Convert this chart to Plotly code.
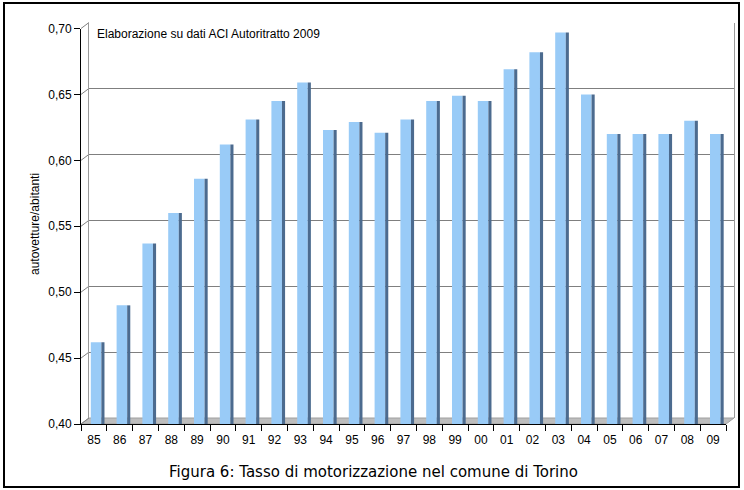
import plotly.graph_objects as go

# Data
anni = ["85", "86", "87", "88", "89", "90", "91", "92", "93", "94", "95", "96", "97",
        "98", "99", "00", "01", "02", "03", "04", "05", "06", "07", "08", "09"]
tasso = [0.462, 0.490, 0.537, 0.560, 0.586, 0.612, 0.631, 0.645, 0.659, 0.623, 0.629, 0.621,
         0.631, 0.645, 0.649, 0.645, 0.669, 0.682, 0.697, 0.650, 0.620, 0.620, 0.620, 0.630, 0.620]
y_ticks = [0.40, 0.45, 0.50, 0.55, 0.60, 0.65, 0.70]

W, H = 744, 490


def px(x):
    return x / W


def py(y):
    return 1 - y / H


fig = go.Figure()

# back wall (gridlines only), shifted up/right for the 3D look
fig.add_trace(go.Bar(x=anni, y=[None] * len(anni), xaxis="x", yaxis="y",
                     showlegend=False, hoverinfo="skip"))

# front face of the bars
fig.add_trace(go.Bar(
    x=anni, y=[v - 0.40 for v in tasso], base=0.40,
    xaxis="x2", yaxis="y2",
    width=0.41, offset=-0.12,
    marker=dict(color="#99cbf7", line=dict(width=0)),
    showlegend=False,
))

# dark side of the bars
fig.add_trace(go.Bar(
    x=anni, y=[v - 0.40 for v in tasso], base=0.40,
    xaxis="x2", yaxis="y2",
    width=0.12, offset=0.29,
    marker=dict(color="#4c6b8f", line=dict(width=0)),
    showlegend=False,
))

# floor + frame + wall connectors
shapes = [
    dict(type="path", xref="paper", yref="paper",
         path=f"M {px(81)},{py(424)} L {px(726)},{py(424)} L {px(734)},{py(418)} L {px(89)},{py(418)} Z",
         fillcolor="#bdbdbd", line=dict(color="#a0a0a0", width=1), layer="below"),
    dict(type="rect", xref="paper", yref="paper",
         x0=px(4), y0=py(487), x1=px(739), y1=py(3),
         line=dict(color="black", width=2)),
]
for v in y_ticks:
    yf = 424 - (v - 0.40) / 0.30 * 395.5
    shapes.append(dict(type="line", xref="paper", yref="paper",
                       x0=px(81), y0=py(yf), x1=px(89), y1=py(yf - 6),
                       line=dict(color="#808080", width=1), layer="below"))

fig.update_layout(
    width=W, height=H,
    margin=dict(l=0, r=0, t=0, b=0, autoexpand=False),
    paper_bgcolor="white",
    plot_bgcolor="rgba(0,0,0,0)",
    separators=",.",
    barmode="overlay",
    font=dict(family="Liberation Sans, Arial, sans-serif", size=12, color="black"),
    xaxis=dict(domain=[px(89), px(734)], anchor="y", showgrid=False, showticklabels=False,
               zeroline=False, ticks="", automargin=False),
    yaxis=dict(domain=[py(418), py(22.5)], anchor="x", range=[0.40, 0.70],
               tickvals=y_ticks, showgrid=True, gridcolor="#7f7f7f", gridwidth=1,
               showticklabels=False, zeroline=False, ticks="", automargin=False,
               showline=True, mirror=True, linecolor="#9a9a9a", linewidth=1),
    xaxis2=dict(domain=[px(81), px(726)], anchor="y2", showgrid=False,
                showline=True, linecolor="black", linewidth=1, automargin=False,
                ticks="outside", ticklen=6, tickcolor="black", tickson="boundaries",
                ticklabelstandoff=5, tickfont=dict(size=12)),
    yaxis2=dict(domain=[py(424), py(28.5)], anchor="x2", range=[0.40, 0.70],
                tickvals=y_ticks, tickformat=".2f", showgrid=False, zeroline=False,
                showline=True, linecolor="black", linewidth=1, automargin=False,
                ticks="outside", ticklen=6, tickcolor="black",
                tickfont=dict(size=12)),
    shapes=shapes,
    annotations=[
        dict(text="Elaborazione su dati ACI Autoritratto 2009", xref="paper", yref="paper",
             x=px(95), y=py(34), xanchor="left", yanchor="middle", showarrow=False,
             font=dict(size=12)),
        dict(text="autovetture/abitanti", xref="paper", yref="paper",
             x=px(35), y=py(224), xanchor="center", yanchor="middle", showarrow=False,
             textangle=-90, font=dict(size=12)),
        dict(text="Figura 6: Tasso di motorizzazione nel comune di Torino",
             xref="paper", yref="paper", x=px(373), y=py(472),
             xanchor="center", yanchor="middle", showarrow=False,
             font=dict(family="DejaVu Sans, Verdana, sans-serif", size=15)),
    ],
)

# pin the chart to the top-left corner of the page
pin = ("document.documentElement.style.overflow='hidden';"
       "document.body.style.margin='0';"
       "var g=document.getElementById('{plot_id}');"
       "g.parentElement.style.position='fixed';"
       "g.parentElement.style.left='0';g.parentElement.style.top='0';")

fig.write_html("out.html", config={"displayModeBar": False}, post_script=pin)
